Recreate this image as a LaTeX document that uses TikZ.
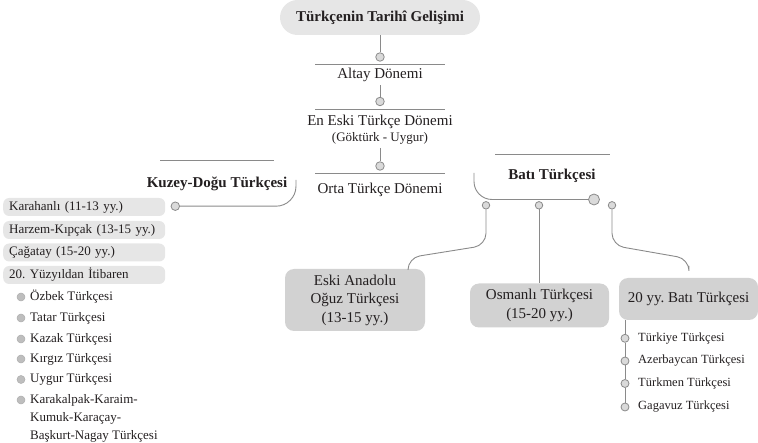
\documentclass[tikz,border=0pt]{standalone}
\usepackage{fontspec}
\setmainfont{Liberation Serif}
\usetikzlibrary{calc,positioning}
\definecolor{ink}{HTML}{231F20}
\definecolor{wire}{HTML}{8A8A8A}
\definecolor{knob}{HTML}{DADADA}
\definecolor{pale}{HTML}{E6E6E6}
\definecolor{tone}{HTML}{D2D2D2}
\definecolor{dot}{HTML}{BEBEBE}
\frenchspacing
\tikzset{
  link/.style={draw=wire,line width=0.9pt},
  knob/.style={circle,draw=wire,fill=knob,line width=0.8pt,inner sep=0pt,minimum size=8.5pt},
  head/.style={font=\bfseries\fontsize{15}{18}\selectfont,text=ink},
  period/.style={font=\fontsize{15}{18}\selectfont,text=ink,inner sep=3pt,align=center},
  rowbox/.style={fill=pale,rounded corners=6pt,anchor=west,text width=150pt,inner xsep=6pt,inner ysep=0pt,minimum height=18pt,align=left,font=\fontsize{13}{16}\selectfont,text=ink},
  wbox/.style={fill=tone,rounded corners=9pt,align=center,font=\fontsize{15}{18.5}\selectfont,text=ink,inner sep=0pt},
  leaf/.style={anchor=west,inner sep=0pt,font=\fontsize{13}{18}\selectfont,text=ink}
}
\begin{document}
\begin{tikzpicture}[x=1pt,y=-1pt]
  \useasboundingbox (0,0) rectangle (758,443);

  % main line of periods
  \node[head,fill=pale,rounded corners=17.5pt,minimum width=200pt,minimum height=35pt] (title) at (380,17.5) {Türkçenin Tarihî Gelişimi};
  \node[knob] (c1) at (380,57) {};
  \node[period] (altay) at (380,75) {Altay Dönemi};
  \node[knob] (c2) at (380,101.5) {};
  \node[period] (eski) at (380,130) {En Eski Türkçe Dönemi\\[-2pt]{\fontsize{13}{15}\selectfont(Göktürk - Uygur)}};
  \node[knob] (c3) at (380,166) {};
  \node[period] (orta) at (380,190) {Orta Türkçe Dönemi};

  \draw[link] (title) -- (c1);
  \draw[link] (altay) -- (c2);
  \draw[link] (eski) -- (c3);
  \foreach \k in {c1,c2,c3}
    \draw[link] ($(\k)+(-65,7.5)$) -- ++(130,0);

  % Kuzey-Dogu
  \node[head] (kd) at (217,184) {Kuzey-Doğu Türkçesi};
  \draw[link] (160,160.7) -- (274,160.7);
  \node[knob] (kdk) at (175.3,206.2) {};
  \coordinate (kdtop) at (296,180);
  \draw[link,rounded corners=20pt] (kdtop) -- (kdtop |- kdk) -- (kdk);

  \node[rowbox] (k1) at (3,207) {Karahanlı (11-13 yy.)};
  \node[rowbox] (k2) at (3,230) {Harzem-Kıpçak (13-15 yy.)};
  \node[rowbox] (k3) at (3,252.5) {Çağatay (15-20 yy.)};
  \node[rowbox] (k4) at (3,275) {20. Yüzyıldan İtibaren};

  \foreach \y/\t [count=\i] in {297/Özbek Türkçesi, 318/Tatar Türkçesi, 339/Kazak Türkçesi, 359/Kırgız Türkçesi, 379.5/Uygur Türkçesi} {
    \node[circle,fill=dot,draw=wire!70,line width=0.5pt,inner sep=0pt,minimum size=8pt] (kb\i) at (21,\y) {};
    \node[leaf] (kt\i) at (30,\y) {\t};
  }
  \node[circle,fill=dot,draw=wire!70,line width=0.5pt,inner sep=0pt,minimum size=8pt] (kb6) at (21,400) {};
  \node[leaf,anchor=north west,align=left] (kt6) at (30,394) {Karakalpak-Karaim-\\Kumuk-Karaçay-\\Başkurt-Nagay Türkçesi};

  % Bati
  \node[head] (bt) at (552,176) {Batı Türkçesi};
  \draw[link] (495,154) -- (610,154);
  \node[knob,minimum size=11pt] (btk) at (594,199.5) {};
  \coordinate (bttop) at (474,173);
  \draw[link,rounded corners=18pt] (bttop) -- (bttop |- btk) -- (btk);

  \node[knob,minimum size=7.5pt] (s1) at (486,205.3) {};
  \node[knob,minimum size=7.5pt] (s2) at (539,205.3) {};
  \node[knob,minimum size=7.5pt] (s3) at (612,205.3) {};

  \node[wbox,minimum width=140pt,minimum height=62pt] (wb1) at (355,300) {Eski Anadolu\\Oğuz Türkçesi\\(13-15 yy.)};
  \node[wbox,minimum width=139pt,minimum height=44pt] (wb2) at (539.5,305.5) {Osmanlı Türkçesi\\(15-20 yy.)};
  \node[wbox,minimum width=139pt,minimum height=42pt] (wb3) at (688.5,299) {20 yy. Batı Türkçesi};

  \draw[link,rounded corners=12pt] (s1) -- ++(0,40) -- ($(wb1.north)+(53,-11)$) -- ($(wb1.north)+(53,0)$);
  \draw[link] (s2) -- (s2 |- wb2.north);
  \draw[link,rounded corners=12pt] (s3) -- ++(0,40) -- ($(wb3.north)+(0.5,-19)$) -- ($(wb3.north)+(0.5,-12)$);

  \foreach \y/\t [count=\i] in {338.3/Türkiye Türkçesi, 361/Azerbaycan Türkçesi, 383.5/Türkmen Türkçesi, 407/Gagavuz Türkçesi} {
    \node[knob,minimum size=8pt] (r\i) at (625,\y) {};
    \node[leaf,font=\fontsize{12.5}{15}\selectfont] (rt\i) at (638,\y) {\t};
  }
  \draw[link] (wb3.south -| r1) -- (r1);
  \foreach \a/\b in {r1/r2,r2/r3,r3/r4}
    \draw[link] (\a) -- (\b);
\end{tikzpicture}
\end{document}
